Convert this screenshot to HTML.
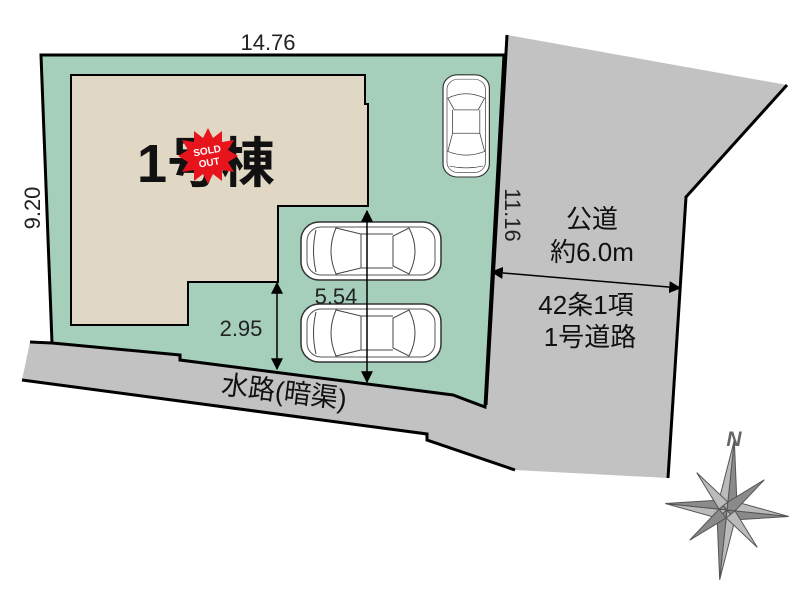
<!DOCTYPE html>
<html><head><meta charset="utf-8"><style>body{margin:0;background:#fff}svg{display:block}text{font-family:"Liberation Sans","Noto Sans CJK JP",sans-serif}</style></head><body>
<svg width="800" height="600" viewBox="0 0 800 600" xmlns="http://www.w3.org/2000/svg">
<defs>
<marker id="a" viewBox="0 0 10 10" refX="9" refY="5" markerWidth="8" markerHeight="8" orient="auto-start-reverse"><path d="M0,0 L10,5 L0,10 z" fill="#000"/></marker>
<g id="car">
<rect x="0" y="0" width="140" height="58" rx="18" fill="#fff" stroke="#333" stroke-width="1.5"/>
<rect x="6" y="5" width="128" height="48" rx="14" fill="none" stroke="#555"/>
<path d="M15,8 Q10,29 15,50 M35,6 Q25,29 35,52 L60,46 L60,12 z M108,6 Q120,29 108,52 L92,44 L92,14 z" fill="none" stroke="#444"/>
<line x1="60" y1="12" x2="92" y2="12" stroke="#444"/><line x1="60" y1="46" x2="92" y2="46" stroke="#444"/>
</g>
</defs>
<polygon points="30,342 52,343 180,355 180,359 453,395 483,407 486,405 507,35 787,85 686,197 668,478 515,470 427,440 427,434 22,380" fill="#c2c2c2"/>
<polyline points="507,35 486,405" fill="none" stroke="#000" stroke-width="3"/>
<polyline points="787,85 686,197 668,478" fill="none" stroke="#000" stroke-width="3"/>
<polyline points="30,342 52,343" fill="none" stroke="#000" stroke-width="3"/>
<polyline points="22,380 427,434 427,440 515,470" fill="none" stroke="#000" stroke-width="3"/>
<polygon points="41,55 504,55 485,407 453,395 180,360 180,355 52,343" fill="#a5cfbb" stroke="#000" stroke-width="3"/>
<polygon points="71,75 365,75 365,104 368,104 368,206 278,206 278,282 188,282 188,325 71,325" fill="#e0d8c4" stroke="#000" stroke-width="2"/>
<g transform="translate(443,177) rotate(-90)"><use href="#car" transform="scale(0.73,0.8)"/></g>
<use href="#car" x="301" y="222"/>
<use href="#car" x="301" y="304"/>
<line x1="367" y1="211" x2="367" y2="382" stroke="#000" stroke-width="1.5" marker-start="url(#a)" marker-end="url(#a)"/>
<line x1="277" y1="283" x2="277" y2="369" stroke="#000" stroke-width="1.5" marker-start="url(#a)" marker-end="url(#a)"/>
<line x1="492" y1="272" x2="680" y2="288" stroke="#000" stroke-width="1.5" marker-start="url(#a)" marker-end="url(#a)"/>
<text x="268" y="50" font-size="22" text-anchor="middle" fill="#222">14.76</text>
<text transform="translate(40,208) rotate(-90)" font-size="22" text-anchor="middle" fill="#222">9.20</text>
<text transform="translate(505,215) rotate(90)" font-size="22" text-anchor="middle" fill="#222">11.16</text>
<text x="137" y="182" font-size="54" font-weight="bold" fill="#111">1号棟</text>
<polygon points="208,128 213,138 222,131 222,142 234,140 228,150 238,156 228,162 234,172 222,170 222,181 213,174 208,184 203,174 194,181 194,170 182,172 188,162 178,156 188,150 182,140 194,142 194,131 203,138" fill="#e8141c"/>
<text x="208" y="154" font-size="10" font-weight="bold" fill="#fff" text-anchor="middle" transform="rotate(-10,208,156)">SOLD</text>
<text x="208" y="166" font-size="10" font-weight="bold" fill="#fff" text-anchor="middle" transform="rotate(-10,208,156)">OUT</text>
<text x="241" y="336" font-size="22" text-anchor="middle" fill="#222">2.95</text>
<text x="336" y="304" font-size="22" text-anchor="middle" fill="#222">5.54</text>
<text transform="translate(283,401) rotate(7)" font-size="27" text-anchor="middle" fill="#111">水路(暗渠)</text>
<text x="592" y="228" font-size="26" text-anchor="middle" fill="#111">公道</text>
<text x="592" y="261" font-size="26" text-anchor="middle" fill="#111">約6.0m</text>
<text x="586" y="314" font-size="26" text-anchor="middle" fill="#111">42条1項</text>
<text x="590" y="346" font-size="26" text-anchor="middle" fill="#111">1号道路</text>
<text x="734" y="446" font-size="21" font-weight="bold" font-style="italic" text-anchor="middle" fill="#666">N</text>
<g transform="translate(727,510) rotate(6)" fill="#8a8a8a" stroke="#555" stroke-width="1">
<polygon points="-22,-22 6,0 0,6" /><polygon points="22,-22 0,6 -6,0"/>
<polygon points="22,22 -6,0 0,-6"/><polygon points="-22,22 0,-6 6,0"/>
<polygon points="0,-70 9,-9 0,0"/><polygon points="0,-70 -9,-9 0,0" fill="#bbb"/>
<polygon points="0,70 9,9 0,0" fill="#bbb"/><polygon points="0,70 -9,9 0,0"/>
<polygon points="62,0 9,9 0,0"/><polygon points="62,0 9,-9 0,0" fill="#bbb"/>
<polygon points="-62,0 -9,9 0,0" fill="#bbb"/><polygon points="-62,0 -9,-9 0,0"/>
<polygon points="34,-34 8,0 0,0 0,-8"/><polygon points="-34,-34 0,-8 -8,0" fill="#bbb"/>
<polygon points="34,34 8,0 0,8" fill="#bbb"/><polygon points="-34,34 -8,0 0,8"/>
</g>
</svg>
</body></html>
